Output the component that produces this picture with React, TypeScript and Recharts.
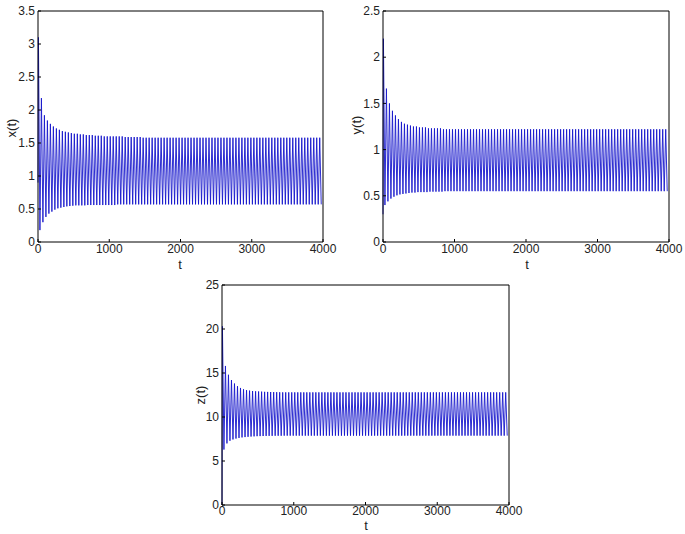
import { LineChart, Line, XAxis, YAxis } from "recharts"

// time of the first peak and half the oscillation period
const FIRST_PEAK_T = 6
const HALF_PERIOD = 21

const T_TICKS = [0, 1000, 2000, 3000, 4000]
const X_TICKS = [0, 0.5, 1, 1.5, 2, 2.5, 3, 3.5]
const Y_TICKS = [0, 0.5, 1, 1.5, 2, 2.5]
const Z_TICKS = [0, 5, 10, 15, 20, 25]

const X_START = 0.9
const X_PEAKS = [
  3.1, 2.18, 1.92, 1.84, 1.79, 1.75, 1.72, 1.7, 1.68, 1.67,
  1.66, 1.65, 1.64, 1.64, 1.63, 1.63, 1.62, 1.62, 1.62, 1.61,
  1.61, 1.61, 1.6, 1.6, 1.6, 1.6, 1.6, 1.6, 1.6, 1.59,
  1.59, 1.59, 1.59, 1.59, 1.59, 1.58, 1.58, 1.58, 1.58, 1.58,
  1.58, 1.58, 1.58, 1.58, 1.58, 1.58, 1.58, 1.58, 1.58, 1.58,
  1.58, 1.58, 1.58, 1.58, 1.58, 1.58, 1.58, 1.58, 1.58, 1.58,
  1.58, 1.58, 1.58, 1.58, 1.58, 1.58, 1.58, 1.58, 1.58, 1.58,
  1.58, 1.58, 1.58, 1.58, 1.58, 1.58, 1.58, 1.58, 1.58, 1.58,
  1.58, 1.58, 1.58, 1.58, 1.58, 1.58, 1.58, 1.58, 1.58, 1.58,
  1.58, 1.58, 1.58, 1.58, 1.58,
]
const X_TROUGHS = [
  0.18, 0.3, 0.38, 0.43, 0.46, 0.49, 0.51, 0.52, 0.53, 0.54,
  0.545, 0.55, 0.555, 0.555, 0.555, 0.555, 0.56, 0.56, 0.56, 0.56,
  0.56, 0.56, 0.56, 0.56, 0.56, 0.56, 0.57, 0.57, 0.57, 0.57,
  0.57, 0.57, 0.57, 0.57, 0.57, 0.57, 0.57, 0.57, 0.57, 0.57,
  0.57, 0.57, 0.57, 0.57, 0.57, 0.57, 0.57, 0.57, 0.57, 0.57,
  0.57, 0.57, 0.57, 0.57, 0.57, 0.57, 0.57, 0.57, 0.57, 0.57,
  0.57, 0.57, 0.57, 0.57, 0.57, 0.57, 0.57, 0.57, 0.57, 0.57,
  0.57, 0.57, 0.57, 0.57, 0.57, 0.57, 0.57, 0.57, 0.57, 0.57,
  0.57, 0.57, 0.57, 0.57, 0.57, 0.57, 0.57, 0.57, 0.57, 0.57,
  0.57, 0.57, 0.57, 0.57, 0.57,
]

const Y_START = 0.3
const Y_PEAKS = [
  2.2, 1.66, 1.5, 1.42, 1.37, 1.33, 1.3, 1.28, 1.27, 1.26,
  1.25, 1.25, 1.24, 1.24, 1.24, 1.23, 1.23, 1.23, 1.23, 1.23,
  1.22, 1.22, 1.22, 1.22, 1.22, 1.22, 1.22, 1.22, 1.22, 1.22,
  1.22, 1.22, 1.22, 1.22, 1.22, 1.22, 1.22, 1.22, 1.22, 1.22,
  1.22, 1.22, 1.22, 1.22, 1.22, 1.22, 1.22, 1.22, 1.22, 1.22,
  1.22, 1.22, 1.22, 1.22, 1.22, 1.22, 1.22, 1.22, 1.22, 1.22,
  1.22, 1.22, 1.22, 1.22, 1.22, 1.22, 1.22, 1.22, 1.22, 1.22,
  1.22, 1.22, 1.22, 1.22, 1.22, 1.22, 1.22, 1.22, 1.22, 1.22,
  1.22, 1.22, 1.22, 1.22, 1.22, 1.22, 1.22, 1.22, 1.22, 1.22,
  1.22, 1.22, 1.22, 1.22, 1.22,
]
const Y_TROUGHS = [
  0.4, 0.44, 0.47, 0.49, 0.505, 0.515, 0.52, 0.525, 0.53, 0.535,
  0.535, 0.54, 0.54, 0.54, 0.54, 0.545, 0.545, 0.545, 0.545, 0.545,
  0.55, 0.55, 0.55, 0.55, 0.55, 0.55, 0.55, 0.55, 0.55, 0.55,
  0.55, 0.55, 0.55, 0.55, 0.55, 0.55, 0.55, 0.55, 0.55, 0.55,
  0.55, 0.55, 0.55, 0.55, 0.55, 0.55, 0.55, 0.55, 0.55, 0.55,
  0.55, 0.55, 0.55, 0.55, 0.55, 0.55, 0.55, 0.55, 0.55, 0.55,
  0.55, 0.55, 0.55, 0.55, 0.55, 0.55, 0.55, 0.55, 0.55, 0.55,
  0.55, 0.55, 0.55, 0.55, 0.55, 0.55, 0.55, 0.55, 0.55, 0.55,
  0.55, 0.55, 0.55, 0.55, 0.55, 0.55, 0.55, 0.55, 0.55, 0.55,
  0.55, 0.55, 0.55, 0.55, 0.55,
]

const Z_START = 0
const Z_PEAKS = [
  20.3, 15.8, 14.8, 14.2, 13.8, 13.5, 13.3, 13.15, 13.05, 13.0,
  12.95, 12.92, 12.9, 12.88, 12.86, 12.85, 12.84, 12.83, 12.82, 12.81,
  12.8, 12.8, 12.8, 12.8, 12.8, 12.8, 12.8, 12.8, 12.8, 12.8,
  12.8, 12.8, 12.8, 12.8, 12.8, 12.8, 12.8, 12.8, 12.8, 12.8,
  12.8, 12.8, 12.8, 12.8, 12.8, 12.8, 12.8, 12.8, 12.8, 12.8,
  12.8, 12.8, 12.8, 12.8, 12.8, 12.8, 12.8, 12.8, 12.8, 12.8,
  12.8, 12.8, 12.8, 12.8, 12.8, 12.8, 12.8, 12.8, 12.8, 12.8,
  12.8, 12.8, 12.8, 12.8, 12.8, 12.8, 12.8, 12.8, 12.8, 12.8,
  12.8, 12.8, 12.8, 12.8, 12.8, 12.8, 12.8, 12.8, 12.8, 12.8,
  12.8, 12.8, 12.8, 12.8, 12.8,
]
const Z_TROUGHS = [
  6.3, 7.0, 7.3, 7.45, 7.55, 7.62, 7.68, 7.72, 7.75, 7.78,
  7.8, 7.82, 7.83, 7.84, 7.85, 7.86, 7.86, 7.87, 7.87, 7.87,
  7.88, 7.88, 7.88, 7.88, 7.88, 7.88, 7.88, 7.88, 7.88, 7.88,
  7.88, 7.88, 7.88, 7.88, 7.88, 7.88, 7.88, 7.88, 7.88, 7.88,
  7.88, 7.88, 7.88, 7.88, 7.88, 7.88, 7.88, 7.88, 7.88, 7.88,
  7.88, 7.88, 7.88, 7.88, 7.88, 7.88, 7.88, 7.88, 7.88, 7.88,
  7.88, 7.88, 7.88, 7.88, 7.88, 7.88, 7.88, 7.88, 7.88, 7.88,
  7.88, 7.88, 7.88, 7.88, 7.88, 7.88, 7.88, 7.88, 7.88, 7.88,
  7.88, 7.88, 7.88, 7.88, 7.88, 7.88, 7.88, 7.88, 7.88, 7.88,
  7.88, 7.88, 7.88, 7.88, 7.88,
]

type Row = { t: number; v: number }

function buildSeries(start: number, peaks: number[], troughs: number[]): Row[] {
  const rows: Row[] = [{ t: 0, v: start }]
  peaks.forEach((p, k) => {
    const tp = FIRST_PEAK_T + 2 * HALF_PERIOD * k
    rows.push({ t: tp, v: p })
    rows.push({ t: tp + HALF_PERIOD, v: troughs[k] })
  })
  return rows
}

const FONT = '"Liberation Sans", Arial, Helvetica, sans-serif'
const PAD_L = 44
const PAD_T = 10
const PAD_R = 20
const PAD_B = 30

const tickStyle = { fill: "#222", fontSize: 12, fontFamily: FONT }

interface PanelProps {
  left: number
  top: number
  w: number
  h: number
  data: Row[]
  yMax: number
  yTicks: number[]
  xTickMargin?: number
}

function Panel({ left, top, w, h, data, yMax, yTicks, xTickMargin = 5 }: PanelProps) {
  return (
    <div style={{ position: "absolute", left: left - PAD_L, top: top - PAD_T }}>
      <LineChart
        width={w + PAD_L + PAD_R}
        height={h + PAD_T + PAD_B}
        data={data}
        margin={{ top: PAD_T - 1, right: PAD_R - 1, left: 0, bottom: 0 }}
      >
        <XAxis
          xAxisId="b"
          dataKey="t"
          type="number"
          domain={[0, 4000]}
          ticks={T_TICKS}
          interval={0}
          height={PAD_B}
          tickSize={-3}
          tickMargin={xTickMargin}
          stroke="#000"
          tick={tickStyle}
        />
        <XAxis
          xAxisId="tp"
          orientation="top"
          dataKey="t"
          type="number"
          domain={[0, 4000]}
          ticks={T_TICKS}
          interval={0}
          height={1}
          tickSize={-3}
          tick={false}
          stroke="#000"
        />
        <YAxis
          yAxisId="l"
          type="number"
          domain={[0, yMax]}
          ticks={yTicks}
          interval={0}
          width={PAD_L}
          tickSize={-3}
          tickMargin={6}
          stroke="#000"
          tick={tickStyle}
        />
        <YAxis
          yAxisId="r"
          orientation="right"
          type="number"
          domain={[0, yMax]}
          ticks={yTicks}
          interval={0}
          width={1}
          tickSize={-3}
          tick={false}
          stroke="#000"
        />
        {/* invisible twin so the mirrored box axes get drawn */}
        <Line
          xAxisId="tp"
          yAxisId="r"
          type="linear"
          dataKey="v"
          stroke="none"
          dot={false}
          activeDot={false}
          isAnimationActive={false}
        />
        <Line
          xAxisId="b"
          yAxisId="l"
          type="linear"
          dataKey="v"
          stroke="#1616cc"
          strokeWidth={0.9}
          dot={false}
          activeDot={false}
          isAnimationActive={false}
        />
      </LineChart>
    </div>
  )
}

function AxisText({ x, y, text, rotate }: { x: number; y: number; text: string; rotate?: boolean }) {
  return (
    <div
      style={{
        position: "absolute",
        left: x,
        top: y,
        transform: `translate(-50%, -50%)${rotate ? " rotate(-90deg)" : ""}`,
        fontFamily: FONT,
        fontSize: 13,
        color: "#222",
        whiteSpace: "nowrap",
        lineHeight: 1,
      }}
    >
      {text}
    </div>
  )
}

export default function App() {
  const xData = buildSeries(X_START, X_PEAKS, X_TROUGHS)
  const yData = buildSeries(Y_START, Y_PEAKS, Y_TROUGHS)
  const zData = buildSeries(Z_START, Z_PEAKS, Z_TROUGHS)

  return (
    <div style={{ position: "absolute", left: 0, top: 0, width: 685, height: 534, background: "#fff" }}>
      <Panel left={38} top={11} w={285} h={231} data={xData} yMax={3.5} yTicks={X_TICKS} />
      <Panel left={383} top={11} w={286} h={231} data={yData} yMax={2.5} yTicks={Y_TICKS} />
      <Panel left={222} top={285} w={287} h={220} data={zData} yMax={25} yTicks={Z_TICKS} xTickMargin={4} />
      <AxisText x={11} y={128} text="x(t)" rotate />
      <AxisText x={180} y={264} text="t" />
      <AxisText x={356} y={125} text="y(t)" rotate />
      <AxisText x={527} y={264} text="t" />
      <AxisText x={200} y={395} text="z(t)" rotate />
      <AxisText x={366} y={525} text="t" />
    </div>
  )
}
